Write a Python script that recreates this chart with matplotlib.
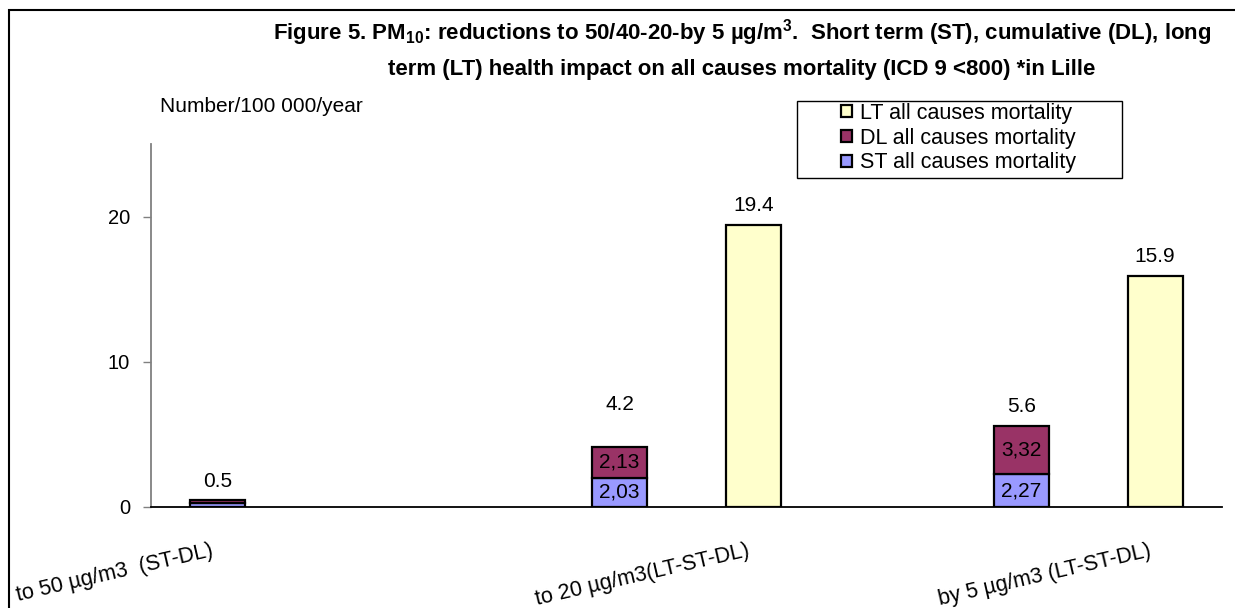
import numpy as np
import matplotlib.pyplot as plt
from matplotlib.patches import Rectangle
from matplotlib.transforms import ScaledTranslation

plt.rcParams['font.family'] = ['Liberation Sans', 'DejaVu Sans']
plt.rcParams['mathtext.default'] = 'regular'

# PM10 reduction scenarios, health impact per 100 000 inhabitants per year
scenarios = ["to 50 µg/m3  (ST-DL)", "to 20 µg/m3(LT-ST-DL)", "by 5 µg/m3 (LT-ST-DL)"]
st_values = [0.25, 2.03, 2.27]
dl_values = [0.25, 2.13, 3.32]
lt_values = [None, 19.4, 15.9]

# slot layout on the category axis (8 slots, some empty)
stack_slots = [0, 3, 6]
lt_slots = [None, 4, 7]
label_slots = [0, 4, 7]
n_slots = 8

ST_COLOR = "#9999FF"
DL_COLOR = "#993366"
LT_COLOR = "#FFFFCC"
FS = 15

W, H = 1235, 608
fig = plt.figure(figsize=(W / 100, H / 100), dpi=100)
ax = fig.add_axes([151 / W, 1 - 507 / H, (1222 - 151) / W, (507 - 144) / H])

width = 0.41
edge = dict(edgecolor="black", linewidth=1.6)

ax.bar(stack_slots, st_values, width, color=ST_COLOR, label="ST all causes mortality", **edge, zorder=3)
ax.bar(stack_slots, dl_values, width, bottom=st_values, color=DL_COLOR,
       label="DL all causes mortality", **edge, zorder=3)

lt_x = [s for s, v in zip(lt_slots, lt_values) if v is not None]
lt_y = [v for v in lt_values if v is not None]
ax.bar(lt_x, lt_y, width, color=LT_COLOR, label="LT all causes mortality", **edge, zorder=3)

# values inside the stacked segments (comma decimals)
for i, (x, st, dl) in enumerate(zip(stack_slots, st_values, dl_values)):
    if i == 0:
        continue
    ax.text(x, st / 2, f"{st:.2f}".replace(".", ","), ha="center", va="center", fontsize=FS, zorder=4)
    ax.text(x, st + dl / 2, f"{dl:.2f}".replace(".", ","), ha="center", va="center", fontsize=FS, zorder=4)

# totals above the stacks
total_offsets = [9, 33, 10]
for x, st, dl, off in zip(stack_slots, st_values, dl_values, total_offsets):
    ax.annotate(f"{st + dl:.1f}", (x, st + dl), xytext=(0, off), textcoords="offset pixels",
                ha="center", va="bottom", fontsize=FS)

for x, v in zip(lt_x, lt_y):
    ax.annotate(f"{v:.1f}", (x, v), xytext=(0, 10), textcoords="offset pixels",
                ha="center", va="bottom", fontsize=FS)

ax.set_xlim(-0.5, n_slots - 0.5)
ax.set_ylim(0, 25)
ax.set_yticks([0, 10, 20])
ax.tick_params(axis="y", direction="out", length=6, width=1, color="#808080", labelsize=14.5, pad=9)

tick_labels = [""] * n_slots
for slot, name in zip(label_slots, scenarios):
    tick_labels[slot] = name
ax.set_xticks(range(n_slots))
ax.set_xticklabels(tick_labels, rotation=13, ha="right", rotation_mode="anchor", fontsize=15.5)
ax.tick_params(axis="x", length=0, pad=24)
shift = ScaledTranslation(-7 / 100, 0, fig.dpi_scale_trans)
for lbl in ax.get_xticklabels():
    lbl.set_transform(lbl.get_transform() + shift)

for side in ["top", "right"]:
    ax.spines[side].set_visible(False)
ax.spines["left"].set_color("#808080")
ax.spines["left"].set_linewidth(1.3)
ax.spines["bottom"].set_color("black")
ax.spines["bottom"].set_linewidth(1.3)

# legend: entries without frame, box drawn separately
handles, labels = ax.get_legend_handles_labels()
order = [2, 1, 0]
leg = fig.legend([handles[i] for i in order], [labels[i] for i in order],
                 loc="upper left", bbox_to_anchor=(841 / W, 1 - 103 / H),
                 fontsize=15.5, frameon=False, borderpad=0,
                 handlelength=0.5, handleheight=0.5, handletextpad=0.4,
                 labelspacing=0.17, borderaxespad=0)
fig.patches.append(Rectangle((797 / W, 1 - 178 / H), (1122 - 797) / W, (178 - 101) / H,
                             transform=fig.transFigure, fill=False, edgecolor="black", linewidth=1.0))

title_x = 742 / W
fig.text(title_x, 1 - 33 / H,
         "Figure 5. PM$_{10}$: reductions to 50/40-20-by 5 µg/m$^{3}$.  Short term (ST), cumulative (DL), long",
         ha="center", va="center", fontsize=16, fontweight="bold")
fig.text(title_x, 1 - 70 / H,
         "term (LT) health impact on all causes mortality (ICD 9 <800) *in Lille",
         ha="center", va="center", fontsize=16, fontweight="bold")

fig.text(160 / W, 1 - 106 / H, "Number/100 000/year", ha="left", va="center", fontsize=FS)

# outer chart frame
fig.patches.append(Rectangle((9 / W, -0.1), 1.2, 1.1 - 10 / H, transform=fig.transFigure,
                             fill=False, edgecolor="black", linewidth=1.5))

fig.savefig("out.png", dpi=100)
